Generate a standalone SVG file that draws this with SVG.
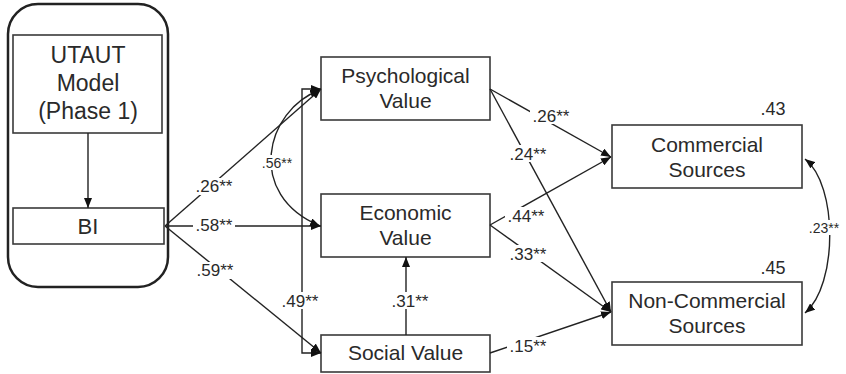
<svg xmlns="http://www.w3.org/2000/svg" width="846" height="374" viewBox="0 0 846 374">
<style>
.box{fill:#fff;stroke:#3a3a3a;stroke-width:1.6}
.t{font-family:"Liberation Sans",Arial,sans-serif;fill:#2a2a2a;text-anchor:middle}
.nt{font-size:21px}
.lb{font-size:17px}
.sm{font-size:14px}
.ln{fill:none;stroke:#222;stroke-width:1.4}
.bg{fill:#fff}
</style>
<defs>
<marker id="ah" viewBox="0 0 10 8" refX="10" refY="4" markerWidth="10" markerHeight="8" markerUnits="userSpaceOnUse" orient="auto-start-reverse">
<path d="M0,0 L10,4 L0,8 z" fill="#111"/>
</marker>
</defs>
<rect x="0" y="0" width="846" height="374" fill="#fff"/>

<g id="phase1-frame">
<rect x="8" y="4" width="160" height="283" rx="30" ry="30" fill="#fff" stroke="#222" stroke-width="2.5"/>
</g>
<g id="utaut">
<rect class="box" x="13" y="35" width="149" height="98"/>
<text class="t" font-size="23" x="88" y="63">UTAUT</text>
<text class="t" font-size="23" x="88" y="91">Model</text>
<text class="t" font-size="23" x="88" y="119">(Phase 1)</text>
</g>
<g id="bi">
<rect class="box" x="13" y="208" width="151" height="36"/>
<text class="t" font-size="22" x="88" y="234">BI</text>
</g>
<g id="psych">
<rect class="box" x="321" y="57" width="169" height="63"/>
<text class="t nt" x="405.5" y="83">Psychological</text>
<text class="t nt" x="405.5" y="108">Value</text>
</g>
<g id="econ">
<rect class="box" x="321" y="194" width="169" height="63"/>
<text class="t nt" x="405.5" y="220">Economic</text>
<text class="t nt" x="405.5" y="245">Value</text>
</g>
<g id="social">
<rect class="box" x="321" y="335" width="169" height="37"/>
<text class="t nt" x="405.5" y="360">Social Value</text>
</g>
<g id="commercial">
<rect class="box" x="612" y="125" width="190" height="63"/>
<text class="t nt" x="707" y="152">Commercial</text>
<text class="t nt" x="707" y="177">Sources</text>
<text class="t" font-size="18" x="773" y="115">.43</text>
</g>
<g id="noncommercial">
<rect class="box" x="612" y="282" width="190" height="63"/>
<text class="t nt" x="707" y="308">Non-Commercial</text>
<text class="t nt" x="707" y="333">Sources</text>
<text class="t" font-size="18" x="773" y="274">.45</text>
</g>

<g id="connectors">
<line class="ln" x1="88" y1="133" x2="88" y2="208" marker-end="url(#ah)"/>
<line class="ln" x1="165" y1="226" x2="321" y2="89" marker-end="url(#ah)"/>
<line class="ln" x1="165" y1="226" x2="321" y2="226" marker-end="url(#ah)"/>
<line class="ln" x1="165" y1="226" x2="321" y2="353" marker-end="url(#ah)"/>
<path class="ln" d="M320,90 C265,110 245,195 320,226" marker-start="url(#ah)" marker-end="url(#ah)"/>
<path class="ln" d="M321,89 L302,89 L302,353 L321,353" marker-start="url(#ah)" marker-end="url(#ah)"/>
<line class="ln" x1="406" y1="335" x2="406" y2="257" marker-end="url(#ah)"/>
<line class="ln" x1="490" y1="89" x2="611" y2="157" marker-end="url(#ah)"/>
<line class="ln" x1="490" y1="89" x2="611" y2="312" marker-end="url(#ah)"/>
<line class="ln" x1="490" y1="225" x2="611" y2="157" marker-end="url(#ah)"/>
<line class="ln" x1="490" y1="225" x2="611" y2="312" marker-end="url(#ah)"/>
<line class="ln" x1="490" y1="353" x2="611" y2="312" marker-end="url(#ah)"/>
<path class="ln" d="M805,159 C838,185 838,285 805,313" marker-start="url(#ah)" marker-end="url(#ah)"/>

<rect class="bg" x="193" y="178" width="42" height="17"/>
<text class="t lb" x="214" y="192">.26**</text>
<rect class="bg" x="193" y="217" width="42" height="17"/>
<text class="t lb" x="214" y="231">.58**</text>
<rect class="bg" x="193" y="262" width="42" height="17"/>
<text class="t lb" x="215" y="276">.59**</text>
<rect class="bg" x="260" y="155" width="34" height="15"/>
<text class="t sm" x="277" y="168">.56**</text>
<rect class="bg" x="279" y="292" width="42" height="17"/>
<text class="t lb" x="300" y="307">.49**</text>
<rect class="bg" x="389" y="292" width="42" height="17"/>
<text class="t lb" x="410" y="307">.31**</text>
<rect class="bg" x="530" y="107" width="42" height="17"/>
<text class="t lb" x="551" y="122">.26**</text>
<rect class="bg" x="507" y="145" width="42" height="17"/>
<text class="t lb" x="528" y="160">.24**</text>
<rect class="bg" x="505" y="207" width="42" height="17"/>
<text class="t lb" x="526" y="222">.44**</text>
<rect class="bg" x="507" y="245" width="42" height="17"/>
<text class="t lb" x="528" y="260">.33**</text>
<rect class="bg" x="507" y="337" width="42" height="17"/>
<text class="t lb" x="528" y="352">.15**</text>
<rect class="bg" x="806" y="220" width="36" height="15"/>
<text class="t sm" x="824" y="233">.23**</text>
</g>
</svg>
